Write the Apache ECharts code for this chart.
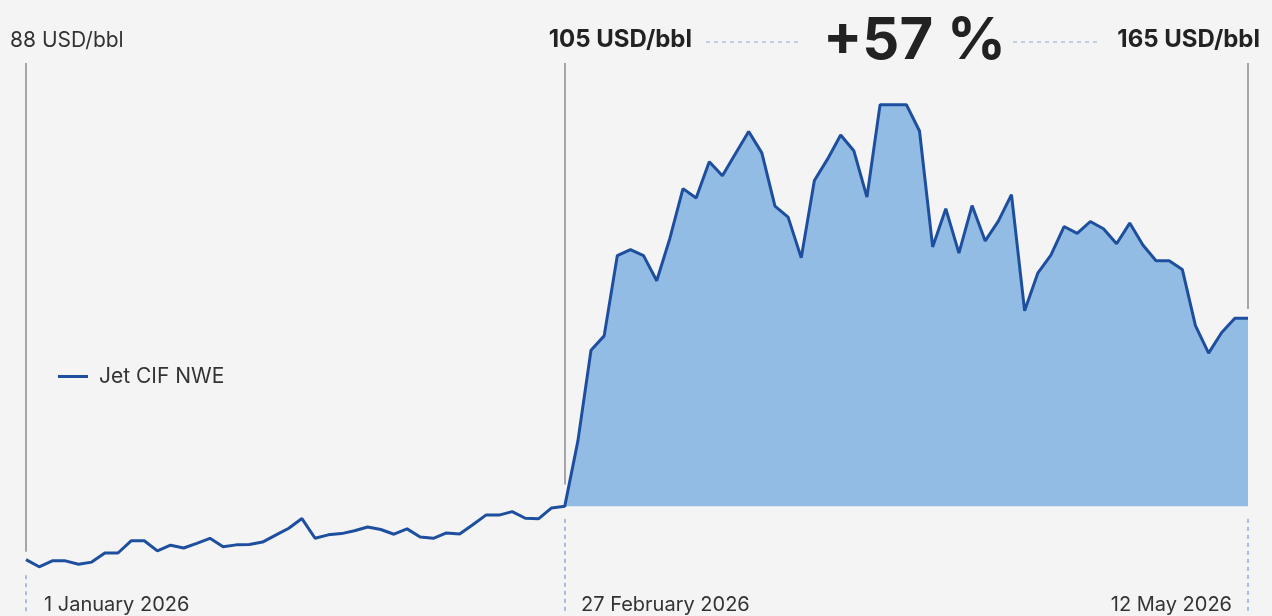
<!DOCTYPE html>
<html>
<head>
<meta charset="utf-8">
<script src="https://cdn.jsdelivr.net/npm/echarts@6/dist/echarts.min.js"></script>
<style>
  html, body { margin: 0; padding: 0; background: #f4f4f4; }
  #jetChart { width: 1272px; height: 616px; }
</style>
</head>
<body>
<div id="jetChart"></div>
<script>
var jetChart = echarts.init(document.getElementById("jetChart"));

// trading days (weekdays) per month, 2026
let janDays = [1, 2, 5, 6, 7, 8, 9, 12, 13, 14, 15, 16, 19, 20, 21, 22, 23, 26, 27, 28, 29, 30];
let febDays = [2, 3, 4, 5, 6, 9, 10, 11, 12, 13, 16, 17, 18, 19, 20, 23, 24, 25, 26, 27];
let marDays = [2, 3, 4, 5, 6, 9, 10, 11, 12, 13, 16, 17, 18, 19, 20, 23, 24, 25, 26, 27, 30, 31];
let aprDays = [1, 2, 3, 6, 7, 8, 9, 10, 13, 14, 15, 16, 17, 20, 21, 22, 23, 24, 27, 28, 29, 30];
let mayDays = [1, 4, 5, 6, 7, 8, 11, 12];

// Jet CIF NWE, USD/bbl
let jetPrices = [
  88, 85.7, 87.6, 87.6, 86.5, 87.2, 90.1, 90.1, 94.0, 94.0,
  90.8, 92.6, 91.7, 93.2, 94.8, 92.1, 92.7, 92.8, 93.6, 95.8,
  98.0, 101.1, 94.8, 95.9, 96.3, 97.2, 98.4, 97.6, 96.1, 97.8,
  95.2, 94.8, 96.5, 96.2, 99.1, 102.2, 102.2, 103.3, 101.2, 101.0,
  104.5, 105,
  125.8, 154.8, 159.4, 185.0, 186.9, 185.0, 177.0, 190.5, 206.4, 203.4,
  215.0, 210.5, 217.6, 224.6, 217.8, 200.8, 197.3, 184.3, 209.0, 215.8,
  223.5, 218.5, 203.7, 233.2, 233.2, 233.2, 224.8, 187.8, 200.0, 185.8,
  201.0, 189.7, 196.0, 204.5, 167.4, 179.4, 185.2, 194.3, 192.1, 195.9,
  193.6, 188.8, 195.4, 188.4, 183.4, 183.4, 180.6, 162.7, 153.9, 160.5,
  165, 165
];

let startDate = "2026-01-01";
let shockDate = "2026-02-27";
let endDate = "2026-05-12";
let startPrice = 88;
let shockPrice = 105;
let endPrice = 165;

function pad(n) { return n < 10 ? "0" + n : "" + n; }
let dates = [];
[[1, janDays], [2, febDays], [3, marDays], [4, aprDays], [5, mayDays]].forEach(function (m) {
  m[1].forEach(function (d) { dates.push("2026-" + pad(m[0]) + "-" + pad(d)); });
});

let shockIdx = dates.indexOf(shockDate);
let areaData = jetPrices.map(function (v, i) { return i < shockIdx ? "-" : v; });

var fontName = "Inter, 'Noto Sans', sans-serif";
var grayLine = { color: "#8c8c8c", width: 1.5, type: "solid" };
var blueDash = { color: "#8eaad8", width: 1.5, type: [4, 4] };

jetChart.setOption({
  backgroundColor: "#f4f4f4",
  animation: false,
  textStyle: { fontFamily: fontName },
  grid: { left: 26, right: 24, top: 52, height: 570 },
  legend: {
    data: ["Jet CIF NWE"],
    left: 58,
    top: 366,
    padding: 0,
    icon: "rect",
    itemWidth: 30,
    itemHeight: 3,
    textStyle: { fontSize: 21, color: "#333", fontFamily: fontName, padding: [0, 0, 0, 6] }
  },
  xAxis: {
    type: "category",
    data: dates,
    boundaryGap: false,
    show: false
  },
  yAxis: {
    type: "value",
    min: 70,
    max: 250,
    show: false
  },
  series: [
    {
      name: "shock",
      type: "line",
      data: areaData,
      symbol: "none",
      z: 1,
      silent: true,
      lineStyle: { width: 0 },
      areaStyle: { color: "#93bce4", opacity: 1, origin: shockPrice }
    },
    {
      name: "Jet CIF NWE",
      type: "line",
      data: jetPrices,
      symbol: "none",
      z: 3,
      clip: false,
      color: "#1e4f9e",
      lineStyle: { width: 3, color: "#1e4f9e" },
      markLine: {
        silent: true,
        symbol: "none",
        label: { show: false },
        data: [
          [{ coord: [startDate, 246.5], lineStyle: grayLine }, { coord: [startDate, 90.5] }],
          [{ coord: [shockDate, 246.5], lineStyle: grayLine }, { coord: [shockDate, 112] }],
          [{ coord: [endDate, 246.5], lineStyle: grayLine }, { coord: [endDate, 168] }],
          [{ coord: [startDate, 83], lineStyle: blueDash }, { coord: [startDate, 71] }],
          [{ coord: [shockDate, 101], lineStyle: blueDash }, { coord: [shockDate, 71] }],
          [{ coord: [endDate, 101], lineStyle: blueDash }, { coord: [endDate, 71] }]
        ]
      }
    }
  ],
  graphic: [
    { type: "text", left: 10, top: 30, style: { text: startPrice + " USD/bbl", font: "400 21px " + fontName, fill: "#333" } },
    { type: "text", right: 580, top: 28, style: { text: shockPrice + " USD/bbl", font: "700 24px " + fontName, fill: "#222" } },
    { type: "text", left: 823, top: 13, style: { text: "+57 %", font: "700 58px " + fontName, fill: "#222" } },
    { type: "text", right: 12, top: 28, style: { text: endPrice + " USD/bbl", font: "700 24px " + fontName, fill: "#222" } },
    { type: "line", shape: { x1: 706, y1: 42, x2: 798, y2: 42 }, style: { stroke: "#8eaad8", lineWidth: 1, lineDash: [4, 4] } },
    { type: "line", shape: { x1: 1013, y1: 42, x2: 1100, y2: 42 }, style: { stroke: "#8eaad8", lineWidth: 1, lineDash: [4, 4] } },
    { type: "text", left: 44, top: 595, style: { text: "1 January 2026", font: "400 20px " + fontName, fill: "#333" } },
    { type: "text", left: 581, top: 595, style: { text: "27 February 2026", font: "400 20px " + fontName, fill: "#333" } },
    { type: "text", right: 40, top: 595, style: { text: "12 May 2026", font: "400 20px " + fontName, fill: "#333" } }
  ]
});
</script>
</body>
</html>
